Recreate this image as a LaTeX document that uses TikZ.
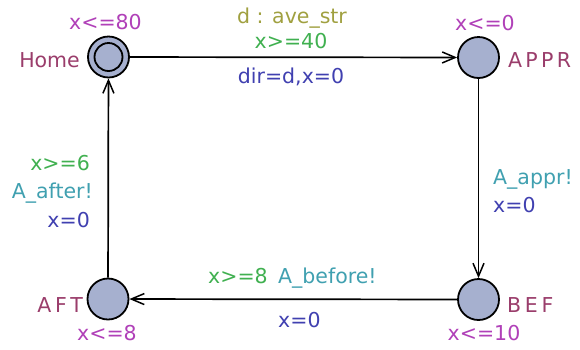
\documentclass[tikz,border=0pt]{standalone}
\usepackage{fontspec}
\setmainfont{DejaVu Sans}
\usetikzlibrary{arrows.meta}
\definecolor{locfill}{HTML}{A6B0CF}
\definecolor{namec}{HTML}{9A3D6B}
\definecolor{invc}{HTML}{B040B8}
\definecolor{selc}{HTML}{A0A040}
\definecolor{guardc}{HTML}{40B050}
\definecolor{syncc}{HTML}{40A0B0}
\definecolor{updc}{HTML}{4040B0}
\tikzset{
  loc/.style={circle, draw=black, line width=1.8pt, fill=locfill, minimum size=41pt, inner sep=0pt},
  lbl/.style={inner sep=0pt, anchor=base, font=\fontsize{20.5}{24}\selectfont},
  nm/.style={lbl, text=namec},
  inv/.style={lbl, text=invc},
  sel/.style={lbl, text=selc},
  grd/.style={lbl, text=guardc},
  syn/.style={lbl, text=syncc},
  upd/.style={lbl, text=updc},
  edge/.style={draw=black, line width=1.7pt, -{Straight Barb[length=13pt,width=11pt,line width=1.5pt]}},
}
\begin{document}
\begin{tikzpicture}[x=1pt,y=-1pt]
\useasboundingbox (0,0) rectangle (580,349);
\node[loc] (home) at (108.5,57) {};
\draw[line width=1.8pt] (home.center) circle (14pt);
\node[loc] (appr) at (478.5,57.5) {};
\node[loc] (bef) at (478.5,299.5) {};
\node[loc] (aft) at (108,299) {};

\draw[edge] (home) -- (appr);
\draw[edge] (appr) -- (bef);
\draw[edge] (bef) -- (aft);
\draw[edge] (aft) -- (home);

% names
\node[nm, anchor=base east] (nhome) at (80,67) {Home};
\node[nm, anchor=base west] (nappr) at (508,67) {\addfontfeature{LetterSpace=16}APPR};
\node[nm, anchor=base west] (nbef) at (507,312) {\addfontfeature{LetterSpace=18}BEF};
\node[nm, anchor=base east] (naft) at (83,312) {\addfontfeature{LetterSpace=18}AFT};

% invariants
\node[inv, anchor=base west] (ihome) at (69,29) {x<=80};
\node[inv] (iappr) at (485,30) {x<=0};
\node[inv] (iaft) at (107,340) {x<=8};
\node[inv] (ibef) at (484,340) {x<=10};

% edge home -> appr
\node[sel] (s1) at (292,23) {d : ave\_str};
\node[grd] (g1) at (291,48) {x>=40};
\node[upd] (u1) at (291,83) {dir=d,x=0};

% edge appr -> bef
\node[syn, anchor=base west] (s2) at (493,184) {A\_appr!};
\node[upd, anchor=base west] (u2) at (493,212) {x=0};

% edge bef -> aft
\node[grd, anchor=base west] (g3) at (208,283) {x>=8};
\node[syn, anchor=base west] (s3) at (278,283) {A\_before!};
\node[upd, anchor=base west] (u3) at (278,327) {x=0};

% edge aft -> home
\node[grd, anchor=base east] (g4) at (90,170) {x>=6};
\node[syn, anchor=base east] (s4) at (93,198) {A\_after!};
\node[upd, anchor=base east] (u4) at (90,227) {x=0};
\end{tikzpicture}
\end{document}
